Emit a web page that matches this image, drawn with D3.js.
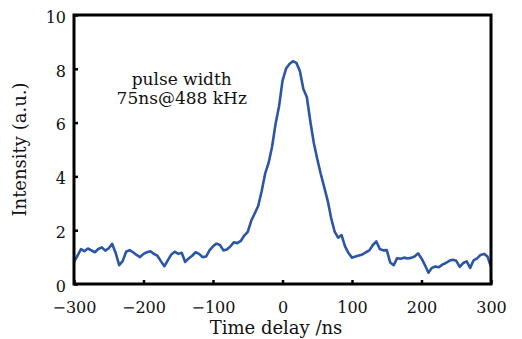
<!DOCTYPE html>
<html lang="en">
<head>
    <meta charset="UTF-8">
    <title>Pulse width</title>
    <script src="https://cdn.jsdelivr.net/npm/d3@7"></script>
    <style>
        body {
            margin: 0;
            background: #fff;
        }
        text {
            font-family: "DejaVu Serif", serif;
            fill: #111;
        }
    </style>
</head>
<body>
    <div id="chart"></div>
    <script>
        // time delay (ns), read every 5 ns off the trace
        const delays = d3.range(-300, 301, 5);
        const intensity = [
            0.82, 1.05, 1.30, 1.22, 1.32, 1.25, 1.18, 1.30, 1.36, 1.24,
            1.33, 1.49, 1.15, 0.70, 0.85, 1.20, 1.26, 1.18, 1.08, 1.00,
            1.12, 1.18, 1.22, 1.12, 1.05, 0.85, 0.66, 0.88, 1.10, 1.20,
            1.12, 1.16, 0.82, 0.95, 1.05, 1.18, 1.12, 1.00, 1.02, 1.25,
            1.40, 1.50, 1.45, 1.25, 1.28, 1.40, 1.55, 1.52, 1.60, 1.80,
            1.94, 2.35, 2.62, 2.90, 3.45, 4.10, 4.50, 5.10, 5.95, 6.60,
            7.55, 8.00, 8.18, 8.28, 8.22, 7.92, 7.25, 6.95, 6.05, 5.25,
            4.65, 4.10, 3.60, 3.10, 2.45, 1.95, 1.72, 1.82, 1.40, 1.15,
            0.98, 1.02, 1.06, 1.10, 1.18, 1.25, 1.45, 1.58, 1.30, 1.25,
            1.26, 0.80, 0.70, 0.96, 0.94, 0.98, 0.95, 0.97, 1.02, 1.14,
            0.95, 0.70, 0.42, 0.60, 0.65, 0.62, 0.72, 0.78, 0.86, 0.90,
            0.86, 0.64, 0.78, 0.84, 0.60, 0.88, 0.95, 1.08, 1.12, 1.02,
            0.64
        ];
        const xTicks = [-300, -200, -100, 0, 100, 200, 300];
        const yTicks = [0, 2, 4, 6, 8, 10];
        const noteLines = ["pulse width", "75ns@488 kHz"];

        const data = delays.map((t, i) => ({ t: t, v: intensity[i] }));

        const W = 522, H = 339;
        const margin = { top: 15, right: 31, bottom: 55, left: 74 },
              width = W - margin.left - margin.right,
              height = H - margin.top - margin.bottom;

        const svg = d3.select("#chart").append("svg")
            .attr("width", W)
            .attr("height", H);

        const g = svg.append("g")
            .attr("transform", `translate(${margin.left},${margin.top})`);

        const x = d3.scaleLinear().domain([-300, 300]).range([0, width]);
        const y = d3.scaleLinear().domain([0, 10]).range([height, 0]);

        // trace
        const line = d3.line()
            .x(d => x(d.t))
            .y(d => y(d.v));

        g.append("path")
            .datum(data)
            .attr("d", line)
            .style("fill", "none")
            .style("stroke", "#2b56a8")
            .style("stroke-width", 2.6)
            .style("stroke-linejoin", "round");

        // axes, ticks pointing inward
        const xAxis = g.append("g")
            .attr("transform", `translate(0,${height})`)
            .call(d3.axisBottom(x).tickValues(xTicks).tickSize(-4).tickPadding(18));
        const yAxis = g.append("g")
            .call(d3.axisLeft(y).tickValues(yTicks).tickSize(-4).tickPadding(8));

        [xAxis, yAxis].forEach(a => {
            a.select(".domain").remove();
            a.selectAll(".tick line").attr("stroke", "#000").attr("stroke-width", 2.5);
            a.selectAll(".tick text")
                .style("font-family", "'DejaVu Serif', serif")
                .style("font-size", "16px")
                .attr("fill", "#111");
        });
        yAxis.selectAll(".tick text").attr("dy", "0.45em");

        // frame
        g.append("rect")
            .attr("x", 0)
            .attr("y", 0)
            .attr("width", width)
            .attr("height", height)
            .style("fill", "none")
            .style("stroke", "#000")
            .style("stroke-width", 3);

        // annotation
        const note = g.append("text")
            .attr("x", x(-145))
            .attr("y", y(7.4))
            .attr("text-anchor", "middle")
            .style("font-size", "17px");
        noteLines.forEach((s, i) => {
            note.append("tspan")
                .attr("x", x(-145))
                .attr("dy", i === 0 ? 0 : "1.15em")
                .text(s);
        });

        // axis titles
        svg.append("text")
            .attr("x", 276)
            .attr("y", 334)
            .attr("text-anchor", "middle")
            .style("font-size", "18px")
            .text("Time delay /ns");

        svg.append("text")
            .attr("transform", `translate(26,${margin.top + height / 2}) rotate(-90)`)
            .attr("text-anchor", "middle")
            .style("font-size", "18px")
            .text("Intensity (a.u.)");
    </script>
</body>
</html>
